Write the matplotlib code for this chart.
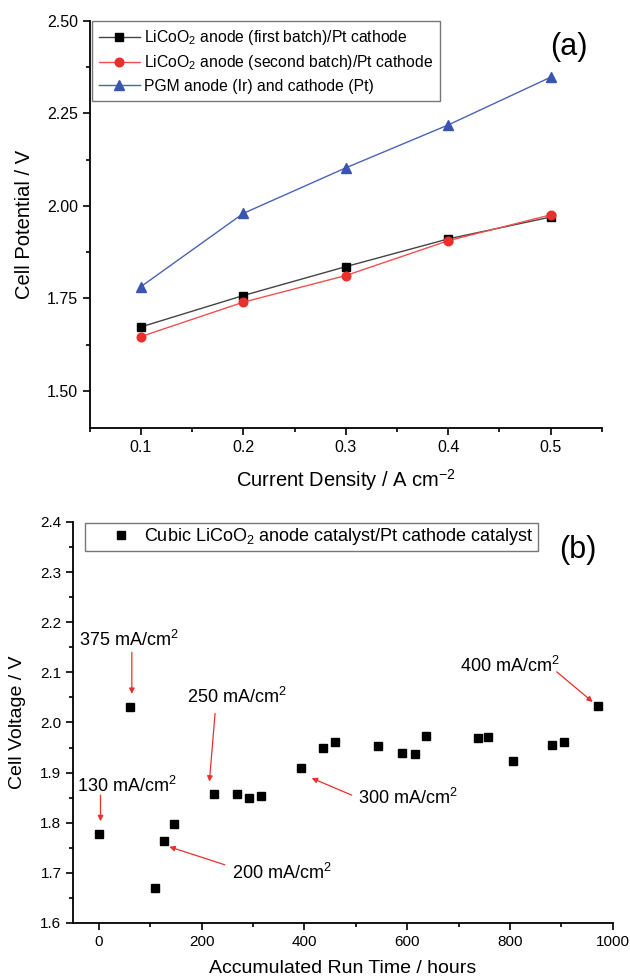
import matplotlib
matplotlib.use("Agg")
import matplotlib.pyplot as plt
from matplotlib.ticker import MultipleLocator

plt.rcParams['font.family'] = ['Liberation Sans', 'DejaVu Sans']
plt.rcParams['mathtext.fontset'] = 'custom'
plt.rcParams['mathtext.rm'] = 'Liberation Sans'
plt.rcParams['mathtext.it'] = 'Liberation Sans:italic'
plt.rcParams['mathtext.bf'] = 'Liberation Sans:bold'

# ---- Panel (a) data ----
current_density = [0.1, 0.2, 0.3, 0.4, 0.5]
licoo2_first = [1.673, 1.758, 1.836, 1.911, 1.970]
licoo2_second = [1.647, 1.740, 1.812, 1.906, 1.976]
pgm = [1.782, 1.980, 2.103, 2.219, 2.348]
labels_a = [r'LiCoO$_\mathregular{2}$ anode (first batch)/Pt cathode',
            r'LiCoO$_\mathregular{2}$ anode (second batch)/Pt cathode',
            'PGM anode (Ir) and cathode (Pt)']

# ---- Panel (b) data ----
run_time = [0, 61, 110, 127, 147, 223, 268, 293, 315, 393, 437, 460, 543, 589,
            616, 637, 738, 757, 806, 881, 905, 971]
cell_voltage = [1.777, 2.030, 1.670, 1.764, 1.797, 1.858, 1.857, 1.850, 1.853,
                1.910, 1.949, 1.961, 1.954, 1.940, 1.938, 1.973, 1.969, 1.971,
                1.924, 1.956, 1.961, 2.033]
label_b = r'Cubic LiCoO$_\mathregular{2}$ anode catalyst/Pt cathode catalyst'

# annotations: (text, text_x, text_y, arrow_start_x, arrow_start_y, arrow_end_x, arrow_end_y)
annotations = [
    ('375', 58, 2.165, 64, 2.140, 64, 2.057),
    ('130', 55, 1.873, 3, 1.855, 3, 1.803),
    ('250', 268, 2.051, 226, 2.018, 215, 1.882),
    ('200', 355, 1.700, 245, 1.716, 137, 1.752),
    ('300', 602, 1.850, 492, 1.855, 414, 1.889),
    ('400', 800, 2.113, 891, 2.101, 961, 2.041),
]

fig = plt.figure(figsize=(6.3, 9.8), dpi=100)

def style_axes(ax, labelsize):
    for s in ['top', 'right']:
        ax.spines[s].set_visible(False)
    for s in ['left', 'bottom']:
        ax.spines[s].set_linewidth(1.3)
    ax.tick_params(which='major', direction='out', length=5, width=1.2, labelsize=labelsize)
    ax.tick_params(which='minor', direction='out', length=3, width=1.2)

# Panel (a)
ax1 = fig.add_axes([0.1424, 0.5633, 0.8129, 0.4153])
ax1.plot(current_density, licoo2_first, color='#444444', lw=1.0, marker='s',
         markersize=5.5, markerfacecolor='black', markeredgecolor='black', label=labels_a[0])
ax1.plot(current_density, licoo2_second, color='#f05050', lw=1.0, marker='o',
         markersize=6.2, markerfacecolor='#e8302c', markeredgecolor='#e8302c', label=labels_a[1])
ax1.plot(current_density, pgm, color='#4a62b8', lw=1.0, marker='^',
         markersize=7.5, markerfacecolor='#3a55b0', markeredgecolor='#3a55b0', label=labels_a[2])
ax1.set_xlim(0.05, 0.55)
ax1.set_ylim(1.40, 2.50)
ax1.xaxis.set_major_locator(MultipleLocator(0.1))
ax1.xaxis.set_minor_locator(MultipleLocator(0.05))
ax1.yaxis.set_minor_locator(MultipleLocator(0.125))
ax1.set_yticks([1.50, 1.75, 2.00, 2.25, 2.50])
ax1.set_yticklabels(['1.50', '1.75', '2.00', '2.25', '2.50'])
style_axes(ax1, 11.5)
ax1.set_xlabel(r'Current Density / A cm$^\mathregular{-2}$', fontsize=14.5, labelpad=9)
ax1.set_ylabel('Cell Potential / V', fontsize=14.5, labelpad=9)
leg = ax1.legend(loc='upper left', bbox_to_anchor=(0.004, 1.0), fontsize=11.3,
                 frameon=True, fancybox=False, edgecolor='#555555', handlelength=2.6,
                 handletextpad=0.3, borderpad=0.45, labelspacing=0.4, borderaxespad=0)
leg.get_frame().set_linewidth(1.0)
ax1.text(0.936, 0.936, '(a)', transform=ax1.transAxes, fontsize=22, ha='center', va='center')

# Panel (b)
ax2 = fig.add_axes([0.1163, 0.0582, 0.8562, 0.4092])
ax2.plot(run_time, cell_voltage, linestyle='none', marker='s', markersize=5.3,
         color='black', label=label_b)
ax2.set_xlim(-50, 1000)
ax2.set_ylim(1.6, 2.4)
ax2.xaxis.set_major_locator(MultipleLocator(200))
ax2.xaxis.set_minor_locator(MultipleLocator(100))
ax2.yaxis.set_major_locator(MultipleLocator(0.1))
ax2.yaxis.set_minor_locator(MultipleLocator(0.05))
style_axes(ax2, 11)
ax2.set_xlabel('Accumulated Run Time / hours', fontsize=14, labelpad=8)
ax2.set_ylabel('Cell Voltage / V', fontsize=14, labelpad=10)
leg2 = ax2.legend(loc='upper left', bbox_to_anchor=(0.021, 0.998), fontsize=13,
                  frameon=True, fancybox=False, edgecolor='#555555', handlelength=3.6,
                  handletextpad=-0.5, borderpad=0.2, borderaxespad=0)
leg2.get_frame().set_linewidth(1.0)
ax2.text(0.936, 0.93, '(b)', transform=ax2.transAxes, fontsize=22, ha='center', va='center')

for txt, tx, ty, sx, sy, ex, ey in annotations:
    ax2.text(tx, ty, txt + r' mA/cm$^\mathregular{2}$', fontsize=13, ha='center', va='center')
    ax2.annotate('', xy=(ex, ey), xytext=(sx, sy),
                 arrowprops=dict(arrowstyle='-|>', color='#e8302c', lw=0.9,
                                 mutation_scale=8, shrinkA=0, shrinkB=0))

fig.savefig('out.png', dpi=100)
